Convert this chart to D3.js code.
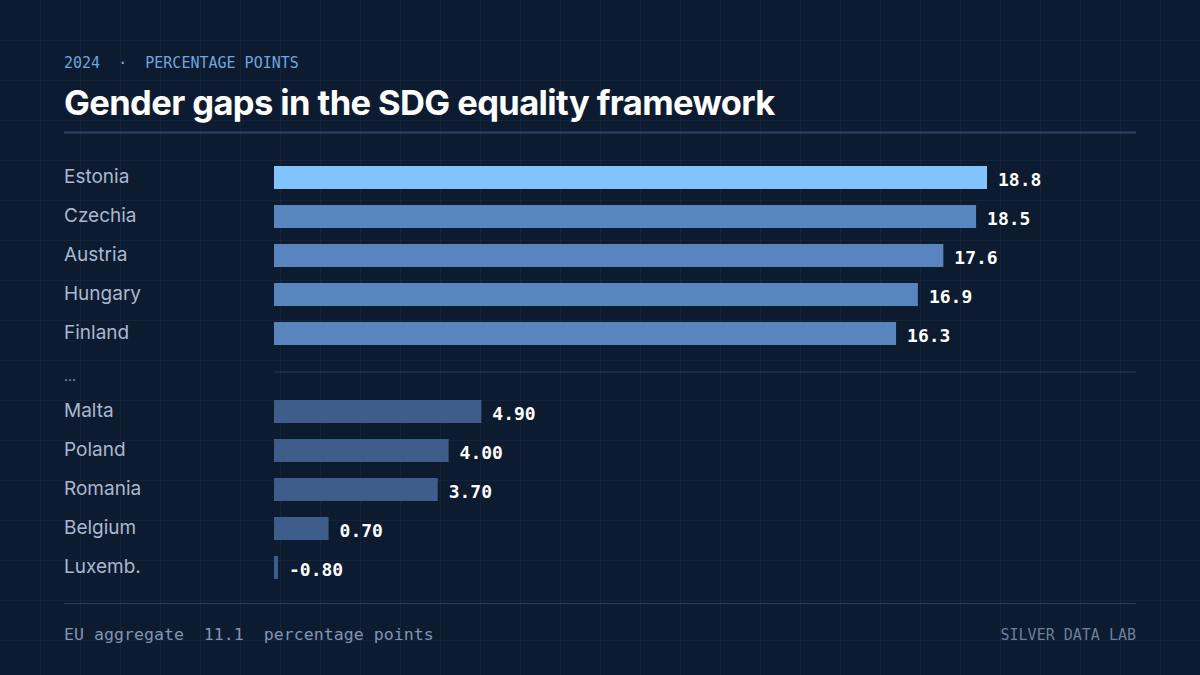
<!DOCTYPE html>
<html><head><meta charset="utf-8">
<script src="https://cdn.jsdelivr.net/npm/d3@7"></script>
<style>html,body{margin:0;padding:0;background:#0d1b31;}svg{display:block;}</style>
</head><body>
<svg id="chart" width="1200" height="675"></svg>
<script>
const topCountries = ["Estonia","Czechia","Austria","Hungary","Finland"];
const topValues = [18.8,18.5,17.6,16.9,16.3];
const bottomCountries = ["Malta","Poland","Romania","Belgium","Luxemb."];
const bottomValues = [4.90,4.00,3.70,0.70,-0.80];
const topLabels = ["18.8","18.5","17.6","16.9","16.3"];
const bottomLabels = ["4.90","4.00","3.70","0.70","-0.80"];
const gapLabel = "...";
const euAggregate = "11.1";

const W = 1200, H = 675;
const svg = d3.select("#chart");
svg.append("rect").attr("width",W).attr("height",H).attr("fill","#0d1b31");
// faint grid
const grid = svg.append("g").attr("stroke","#ffffff").attr("stroke-opacity",0.035).attr("stroke-width",1);
d3.range(40, W, 40).forEach(x=>grid.append("line").attr("x1",x+0.5).attr("x2",x+0.5).attr("y1",0).attr("y2",H));
d3.range(40, H, 40).forEach(y=>grid.append("line").attr("y1",y+0.5).attr("y2",y+0.5).attr("x1",0).attr("x2",W));

const mono = "'DejaVu Sans Mono', 'Liberation Mono', monospace";
const sans = "Inter, 'Noto Sans', sans-serif";

svg.append("text").attr("x",64).attr("y",68).attr("fill","#6fa6dd")
  .style("font-family",mono).style("font-size","15px").attr("xml:space","preserve")
  .text("2024  ·  PERCENTAGE POINTS");
svg.append("text").attr("x",64).attr("y",115).attr("fill","#ffffff")
  .style("font-family",sans).style("font-weight",700).style("font-size","34.5px").style("letter-spacing","-0.6px")
  .text("Gender gaps in the SDG equality framework");
svg.append("line").attr("x1",64).attr("x2",1136).attr("y1",132.5).attr("y2",132.5).attr("stroke","#2c4269").attr("stroke-width",2);

const rows = [];
topCountries.forEach((c,i)=>rows.push({name:c,value:topValues[i],label:topLabels[i],group:"top",rank:i}));
rows.push({name:gapLabel,gap:true});
bottomCountries.forEach((c,i)=>rows.push({name:c,value:bottomValues[i],label:bottomLabels[i],group:"bottom",rank:i}));

const allVals = topValues.concat(bottomValues);
const x = d3.scaleLinear().domain([d3.min(allVals), d3.max(allVals)]).range([274, 987]);
const y = d3.scaleBand().domain(rows.map((d,i)=>i)).range([158, 587]).paddingInner(0.41).paddingOuter(0.205);

const g = svg.append("g");
rows.forEach((d,i)=>{
  const yc = y(i) + y.bandwidth()/2;
  g.append("text").attr("x",64).attr("y",yc + (d.gap ? 8 : 5)).attr("fill", d.gap ? "#8fa0ba" : "#a9b8cf")
    .style("font-family",sans).style("font-size", d.gap ? "14px" : "19px").text(d.name);
  if (d.gap) {
    g.append("line").attr("x1",274).attr("x2",1136).attr("y1",yc-0.5).attr("y2",yc-0.5)
      .attr("stroke","#2a3b58").attr("stroke-width",1);
    return;
  }
  const x0 = x.range()[0];
  const w = Math.max(4, x(d.value) - x0);
  const color = d.group === "top" ? (d.rank === 0 ? "#80c3ff" : "#5985bf") : "#3e5d8a";
  g.append("rect").attr("x",x0).attr("y",y(i)).attr("width",w).attr("height",y.bandwidth()).attr("fill",color);
  g.append("text").attr("x",x0+w+11).attr("y",yc+8.5).attr("fill","#ffffff")
    .style("font-family",mono).style("font-weight",700).style("font-size","18px").text(d.label);
});

svg.append("line").attr("x1",64).attr("x2",1136).attr("y1",603.5).attr("y2",603.5).attr("stroke","#2a3b58").attr("stroke-width",1);
svg.append("text").attr("x",64).attr("y",640).attr("fill","#8194b0").attr("xml:space","preserve")
  .style("font-family",mono).style("font-size","16.6px").text("EU aggregate  " + euAggregate + "  percentage points");
svg.append("text").attr("x",1136).attr("y",640).attr("text-anchor","end").attr("fill","#6c7f9c")
  .style("font-family",mono).style("font-size","15px").text("SILVER DATA LAB");
</script>
</body></html>
